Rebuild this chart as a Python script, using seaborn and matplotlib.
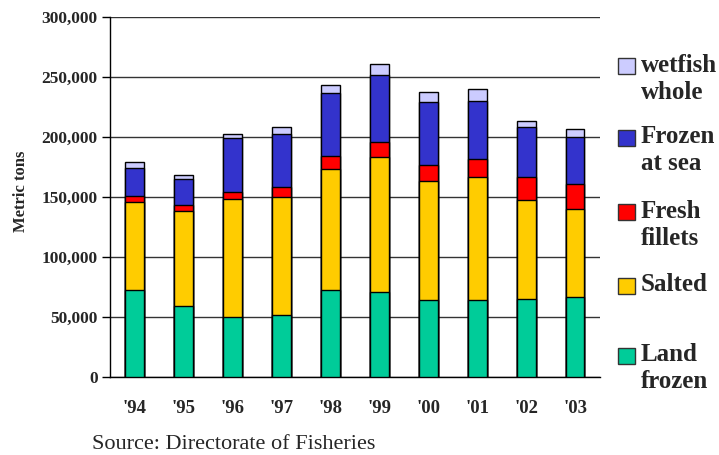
import numpy as np
import pandas as pd
import seaborn as sns
import matplotlib.pyplot as plt
from matplotlib.patches import Rectangle
from matplotlib.ticker import FuncFormatter, MultipleLocator

# ---------------------------------------------------------------
# Data (metric tons)
# ---------------------------------------------------------------
years = ["'94", "'95", "'96", "'97", "'98", "'99", "'00", "'01", "'02", "'03"]
land_frozen = [72500, 58900, 50000, 51400, 72000, 70300, 63900, 63900, 64750, 66200]
salted = [72800, 79200, 98300, 98300, 101100, 113000, 98900, 102500, 82750, 73300]
fresh_fillets = [5300, 5000, 5300, 8300, 10600, 12300, 13800, 15000, 19400, 21300]
frozen_at_sea = [23100, 21700, 45000, 44700, 52800, 56100, 52000, 48600, 41400, 38900]
wetfish_whole = [5000, 3300, 3800, 5600, 6900, 8900, 8600, 10000, 4750, 6900]

series_names = ["Land\nfrozen", "Salted", "Fresh\nfillets", "Frozen\nat sea", "wetfish\nwhole"]
series_colors = ["#00CC99", "#FFCC00", "#FF0000", "#3333CC", "#CCCCFF"]

df = pd.DataFrame({
    "year": years,
    "Land\nfrozen": land_frozen,
    "Salted": salted,
    "Fresh\nfillets": fresh_fillets,
    "Frozen\nat sea": frozen_at_sea,
    "wetfish\nwhole": wetfish_whole,
})

# cumulative sums for the stacked look
cum = df[series_names].cumsum(axis=1)

sns.set_style("white")
plt.rcParams["font.family"] = ["Liberation Serif", "DejaVu Serif"]

fig = plt.figure(figsize=(7.19, 4.55), dpi=100)
ax = fig.add_axes([0.153, 0.172, 0.681, 0.791])

# draw tallest first so each lower segment covers the one above
for name, color in reversed(list(zip(series_names, series_colors))):
    sns.barplot(x=df["year"], y=cum[name], color=color, width=0.38,
                edgecolor="black", linewidth=1, saturation=1, ax=ax, zorder=3)

ax.set_ylim(0, 300000)
ax.set_xlim(-0.5, len(years) - 0.5)
ax.yaxis.set_major_locator(MultipleLocator(50000))
ax.yaxis.set_major_formatter(FuncFormatter(lambda v, p: f"{int(v):,}"))
ax.grid(axis="y", color="#333333", linewidth=1, zorder=0)
ax.grid(axis="x", visible=False)

for s in ["top", "right"]:
    ax.spines[s].set_visible(False)
for s in ["left", "bottom"]:
    ax.spines[s].set_color("black")
    ax.spines[s].set_linewidth(1)

ax.set_xticks(np.arange(len(years)))
ax.set_xticklabels(years)
ax.set_xticks(np.arange(len(years) + 1) - 0.5, minor=True)
ax.tick_params(axis="x", which="major", length=0, pad=17, labelsize=13.5)
ax.tick_params(axis="x", which="minor", length=5, direction="out", color="black", width=1)
ax.tick_params(axis="y", length=6, direction="out", color="black", width=1, labelsize=12.5, pad=3)
ax.tick_params(left=True, bottom=True)
for lab in ax.get_xticklabels() + ax.get_yticklabels():
    lab.set_fontweight("bold")

ax.set_xlabel("")
ax.set_ylabel("Metric tons", fontsize=12, fontweight="bold")
ax.yaxis.set_label_coords(-0.165, 0.515)

# legend built by hand so each box sits beside the first text line
legend_y = [0.857, 0.699, 0.536, 0.374, 0.220]
line_gap = 27 / 455
for name, color, yy in zip(reversed(series_names), reversed(series_colors), legend_y):
    fig.patches.append(Rectangle((0.860, yy - 0.020), 0.023, 0.036, transform=fig.transFigure,
                                 facecolor=color, edgecolor="#333333", linewidth=1))
    for i, line in enumerate(name.split("\n")):
        fig.text(0.891, yy - i * line_gap, line, fontsize=18, fontweight="bold",
                 va="center", ha="left")

fig.text(0.128, 0.024, "Source: Directorate of Fisheries", fontsize=16, ha="left", va="center")

fig.savefig("out.png", dpi=100)
